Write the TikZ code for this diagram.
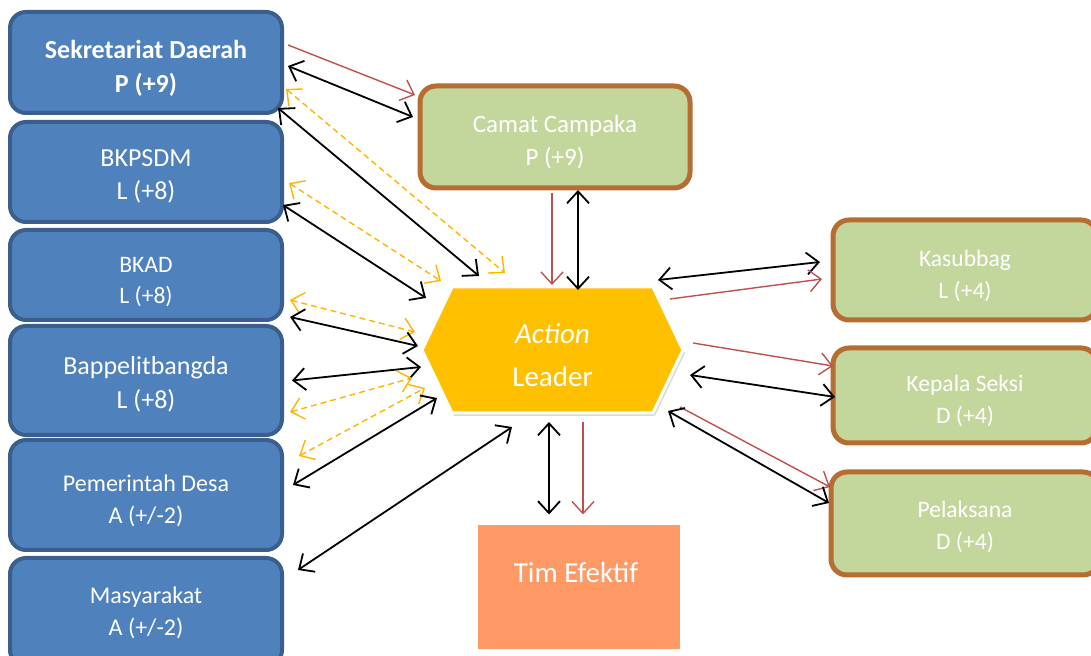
\documentclass[tikz,border=0pt]{standalone}
\usepackage{fontspec}
\setmainfont{Carlito}
\usetikzlibrary{arrows.meta,calc,shapes.symbols,shadows}

\definecolor{boxblue}{HTML}{4F81BD}
\definecolor{boxblueline}{HTML}{3B5F8C}
\definecolor{boxgreen}{HTML}{C3D69B}
\definecolor{boxbrown}{HTML}{B66D31}
\definecolor{leadgold}{HTML}{FFC000}
\definecolor{timorange}{HTML}{FF9A66}
\definecolor{linkred}{HTML}{C0504D}
\definecolor{linkgold}{HTML}{FFB400}

\tikzset{
  actorbox/.style={draw=boxblueline, fill=boxblue, line width=2pt, rounded corners=8pt,
    minimum width=136pt, text=white, align=center, outer sep=0pt, text depth=0pt, text height=28pt},
  unitbox/.style={draw=boxbrown, fill=boxgreen, line width=2.5pt, rounded corners=8pt,
    text=white, align=center, outer sep=0pt, text depth=0pt, text height=29pt,
    font=\fontsize{11.8}{16}\selectfont},
  duallink/.style={<->, line width=0.9pt},
  redlink/.style={->, linkred, line width=0.7pt},
  goldlink/.style={<->, linkgold, dash pattern=on 3pt off 2pt, line width=0.7pt},
}

\begin{document}
\begin{tikzpicture}[x=0.5pt, y=-0.5pt, >={Straight Barb[length=6pt,width=11pt]}]
\useasboundingbox (0,0) rectangle (1091,656);

% left column
\node[actorbox, minimum height=50.5pt, text height=30.5pt, font=\fontsize{13}{17}\selectfont\bfseries] (sekda) at (146,62.5) {Sekretariat Daerah\\P (+9)};
\node[actorbox, minimum height=50pt, font=\fontsize{13}{16.5}\selectfont] (bkpsdm) at (146,172) {BKPSDM\\L (+8)};
\node[actorbox, minimum height=45pt, text height=29pt, font=\fontsize{11.8}{15.5}\selectfont] (bkad) at (146,275) {BKAD\\L (+8)};
\node[actorbox, minimum height=54.5pt, text height=28.2pt, font=\fontsize{13}{17}\selectfont] (bappe) at (146,380.5) {Bappelitbangda\\L (+8)};
\node[actorbox, minimum height=55pt, text height=29pt, font=\fontsize{12}{16}\selectfont] (pemdes) at (146,495) {Pemerintah Desa\\A (+/-2)};
\node[actorbox, minimum height=54pt, text height=23.7pt, font=\fontsize{12}{16}\selectfont] (masy) at (146,612) {Masyarakat\\A (+/-2)};

% centre
\node[unitbox, minimum width=135pt, minimum height=51pt, font=\fontsize{12.5}{16.5}\selectfont] (camat) at (555,137) {Camat Campaka\\P (+9)};
\node[signal, signal to=west and east, signal pointer angle=129, minimum width=130.5pt, minimum height=63pt,
  fill=leadgold, draw=white, line width=1.5pt, text=white, align=center, text depth=0pt, text height=36.3pt,
  font=\fontsize{14.5}{21.5}\selectfont,
  drop shadow={opacity=0.3, shadow xshift=1pt, shadow yshift=-1.5pt}] (hex) at (552.5,350) {\textit{Action}\\Leader};
\node[fill=timorange, draw=white, line width=2pt, minimum width=103pt, minimum height=63.5pt, outer sep=0pt,
  drop shadow={opacity=0.25, shadow xshift=1pt, shadow yshift=-1pt}] (tim) at (579,587) {};
\node[text=white, font=\fontsize{14.5}{18}\selectfont] (timlabel) at ($(tim.center)+(-3,-14)$) {Tim Efektif};

% right column
\node[unitbox, minimum width=132pt, minimum height=50pt] (kasub) at (965,270) {Kasubbag\\L (+4)};
\node[unitbox, minimum width=132pt, minimum height=47.5pt, text height=28.2pt] (kepsek) at (965,395.5) {Kepala Seksi\\D (+4)};
\node[unitbox, minimum width=134pt, minimum height=51.5pt, text height=26.5pt] (pelak) at (965,523.5) {Pelaksana\\D (+4)};

% Sekretariat Daerah
\draw[redlink] ($(sekda.east)+(6,-17.5)$) -- ($(camat.west)+(-5,-42)$);
\draw[duallink] ($(sekda.east)+(6,3.5)$) -- ($(camat.west)+(-7,-20)$);
\draw[goldlink] ($(sekda.east)+(4,26.5)$) -- ($(hex.center)+(-47.5,-77)$);
\draw[duallink] ($(sekda.east)+(-4,45.5)$) -- ($(hex.center)+(-73.5,-74)$);
% BKPSDM
\draw[goldlink] ($(bkpsdm.east)+(7,11)$) -- ($(hex.center)+(-111.5,-69)$);
\draw[duallink] ($(bkpsdm.east)+(1,33)$) -- ($(hex.center)+(-126.5,-52)$);
% BKAD
\draw[goldlink] ($(bkad.east)+(8,25)$) -- ($(hex.center)+(-137.5,-18)$);
\draw[duallink] ($(bkad.east)+(8,42)$) -- ($(hex.center)+(-134.5,-4)$);
% Bappelitbangda
\draw[duallink] ($(bappe.east)+(10,0)$) -- ($(hex.center)+(-131.5,17)$);
\draw[goldlink] ($(bappe.east)+(8,31.5)$) -- ($(hex.center)+(-140.5,28)$);
% Pemerintah Desa
\draw[goldlink] ($(pemdes.east)+(17,-39)$) -- ($(hex.center)+(-127.5,38)$);
\draw[duallink] ($(pemdes.east)+(11,-10)$) -- ($(hex.center)+(-115.5,48)$);
% Masyarakat
\draw[duallink] ($(masy.east)+(16,-42)$) -- ($(hex.center)+(-40.5,77)$);
% Camat Campaka
\draw[redlink] ($(camat.south)+(-3,5)$) -- ($(hex.center)+(-0.5,-65)$);
\draw[duallink] ($(camat.south)+(23,2)$) -- ($(hex.center)+(25.5,-60)$);
% Tim Efektif
\draw[duallink] ($(hex.center)+(-3.5,72)$) -- ($(tim.north)+(-30,-9)$);
\draw[redlink] ($(hex.center)+(30.5,72)$) -- ($(tim.north)+(4,-9)$);
% right column
\draw[duallink] ($(hex.center)+(105.5,-70)$) -- ($(kasub.west)+(-13,-8)$);
\draw[redlink] ($(hex.center)+(117.5,-51)$) -- ($(kasub.west)+(-11,9)$);
\draw[redlink] ($(hex.center)+(140.5,-7)$) -- ($(kepsek.west)+(0,-29.5)$);
\draw[duallink] ($(hex.center)+(137.5,25)$) -- ($(kepsek.west)+(2,1.5)$);
\draw[redlink] ($(hex.center)+(127.5,57)$) -- ($(pelak.west)+(-1,-36.5)$);
\draw[duallink] ($(hex.center)+(115.5,61)$) -- ($(pelak.west)+(-2,-20.5)$);
\end{tikzpicture}
\end{document}
